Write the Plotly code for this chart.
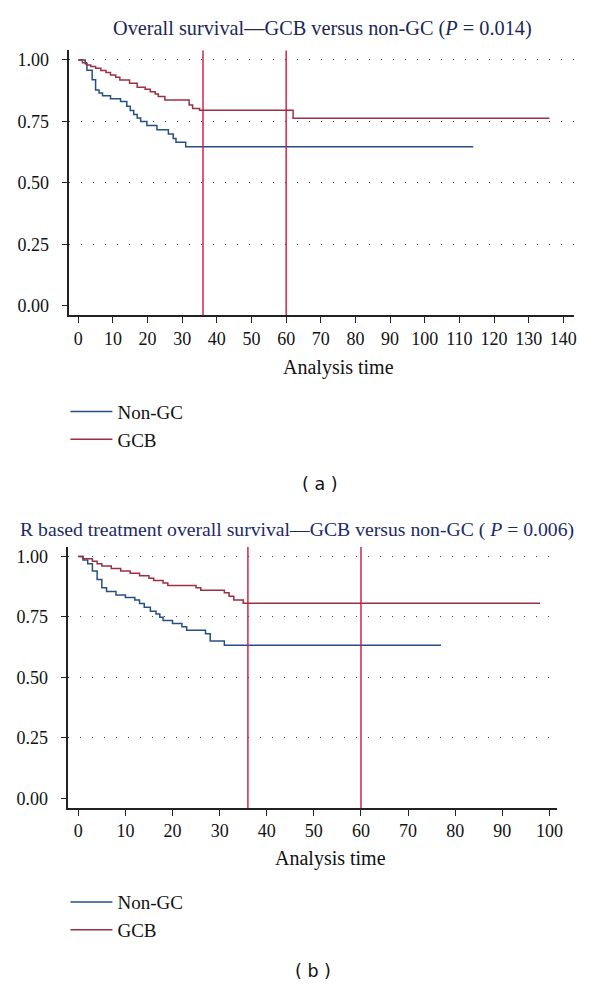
import plotly.graph_objects as go

# ---------------- data ----------------
# Panel (a): overall survival
a_nongc_t = [0, 2, 2.5, 4, 5, 6, 7, 9.3, 12.2, 14, 15, 16, 17, 18, 19.8, 22.7, 26, 27.4, 28.2, 31, 114]
a_nongc_s = [1.0, 0.985, 0.958, 0.92, 0.878, 0.866, 0.854, 0.842, 0.831, 0.812, 0.794, 0.778, 0.764, 0.75, 0.733, 0.716, 0.699, 0.68, 0.665, 0.647, 0.647]
a_gcb_t = [0, 1.2, 2.4, 3.6, 5, 6.5, 8, 9.3, 10.8, 12, 14.8, 17, 19.3, 20.8, 22.2, 23.1, 25, 32, 33, 35, 62, 136]
a_gcb_s = [1.0, 0.989, 0.98, 0.973, 0.966, 0.957, 0.949, 0.939, 0.93, 0.919, 0.905, 0.889, 0.881, 0.871, 0.862, 0.851, 0.837, 0.817, 0.803, 0.795, 0.763, 0.763]

# Panel (b): R based treatment overall survival
b_nongc_t = [0, 1, 2, 3, 4, 5, 6, 8, 10, 12, 13, 14, 15.3, 16.5, 17.3, 18, 20, 22, 23, 27, 28, 31, 77]
b_nongc_s = [1.0, 0.985, 0.97, 0.94, 0.905, 0.87, 0.855, 0.84, 0.83, 0.82, 0.805, 0.79, 0.773, 0.762, 0.748, 0.735, 0.723, 0.709, 0.695, 0.68, 0.65, 0.633, 0.633]
b_gcb_t = [0, 1, 3, 4, 5, 7, 9, 11, 13, 15, 16, 18, 19, 25, 26, 31, 32, 33, 35, 98]
b_gcb_s = [1.0, 0.99, 0.98, 0.97, 0.96, 0.95, 0.94, 0.93, 0.92, 0.91, 0.90, 0.89, 0.88, 0.87, 0.86, 0.85, 0.835, 0.82, 0.806, 0.806]

ref_times = [36, 60]
y_ticks = [0, 0.25, 0.5, 0.75, 1.0]
y_ticklabels = ["0.00", "0.25", "0.50", "0.75", "1.00"]
a_xticks = list(range(0, 141, 10))
b_xticks = list(range(0, 101, 10))
series_names = ["Non-GC", "GCB"]
title_a = "Overall survival—GCB versus non-GC (<i>P</i> = 0.014)"
title_b = "R based treatment overall survival—GCB versus non-GC ( <i>P</i> = 0.006)"

# ---------------- style ----------------
BLUE = "#274f86"
RED = "#9b3042"
VLINE = "#d0163f"
SERIF = "Liberation Serif"
OFF = 8            # page body margin in the browser
W, H = 600 - OFF, 988 - OFF
YR = [-0.04, 1.04]

def py(p):  # page pixel-from-top -> paper y
    return 1 - (p - OFF) / H

def px(p):
    return (p - OFF) / W

fig = go.Figure()

fig.add_trace(go.Scatter(x=a_nongc_t, y=a_nongc_s, mode="lines", line=dict(color=BLUE, width=1.5, shape="hv"),
                         name=series_names[0], xaxis="x", yaxis="y", legend="legend"))
fig.add_trace(go.Scatter(x=a_gcb_t, y=a_gcb_s, mode="lines", line=dict(color=RED, width=1.5, shape="hv"),
                         name=series_names[1], xaxis="x", yaxis="y", legend="legend"))
fig.add_trace(go.Scatter(x=b_nongc_t, y=b_nongc_s, mode="lines", line=dict(color=BLUE, width=1.5, shape="hv"),
                         name=series_names[0], xaxis="x2", yaxis="y2", legend="legend2"))
fig.add_trace(go.Scatter(x=b_gcb_t, y=b_gcb_s, mode="lines", line=dict(color=RED, width=1.5, shape="hv"),
                         name=series_names[1], xaxis="x2", yaxis="y2", legend="legend2"))

for xr, yr in [("x", "y"), ("x2", "y2")]:
    for t in ref_times:
        fig.add_shape(type="line", xref=xr, yref=yr, x0=t, x1=t, y0=YR[0], y1=YR[1],
                      line=dict(color=VLINE, width=1.4), layer="above")

tickfont = dict(family=SERIF, size=18, color="#111111")
common_x = dict(showline=True, linecolor="#222222", linewidth=1.5, ticks="outside", ticklen=6,
                tickcolor="#222222", tickwidth=1.3, showgrid=False, zeroline=False, tickfont=tickfont,
                ticklabelstandoff=0)
common_y = dict(showline=True, linecolor="#222222", linewidth=1.5, ticks="outside", ticklen=6,
                tickcolor="#222222", tickwidth=1.3, showgrid=False, zeroline=False, tickfont=tickfont,
                tickvals=y_ticks, ticktext=y_ticklabels, range=YR, ticklabelstandoff=9,
                minor=dict(tickvals=y_ticks[1:], showgrid=True, gridcolor="#444444", gridwidth=1.2,
                           griddash="1px,11px", ticks=""))

legfont = dict(family=SERIF, size=19, color="#111111")
fig.update_layout(
    width=W, height=H, margin=dict(l=0, r=0, t=0, b=0),
    paper_bgcolor="white", plot_bgcolor="white",
    xaxis=dict(common_x, domain=[px(70), px(580)], range=[-2.571, 143.14], anchor="y",
               tickvals=a_xticks),
    yaxis=dict(common_y, domain=[py(315.8), py(50.2)], anchor="x"),
    xaxis2=dict(common_x, domain=[px(69), px(563)], range=[-2.1, 101.68], anchor="y2",
                tickvals=b_xticks),
    yaxis2=dict(common_y, domain=[py(808.7), py(547.3)], anchor="x2"),
    legend=dict(x=px(66), y=py(393), xanchor="left", yanchor="top", font=legfont,
                bgcolor="rgba(0,0,0,0)", tracegroupgap=0, itemwidth=42),
    legend2=dict(x=px(66), y=py(884), xanchor="left", yanchor="top", font=legfont,
                 bgcolor="rgba(0,0,0,0)", tracegroupgap=0, itemwidth=42),
    showlegend=True,
)

ann = [
    dict(text=title_a, x=px(326), y=py(29), font=dict(family=SERIF, size=20.3, color="#1c2757")),
    dict(text=title_b, x=px(300), y=py(530), font=dict(family=SERIF, size=19.7, color="#1c2a66")),
    dict(text="Analysis time", x=px(342), y=py(368), font=dict(family=SERIF, size=20, color="#111111")),
    dict(text="Analysis time", x=px(334), y=py(859), font=dict(family=SERIF, size=20, color="#111111")),
    dict(text="( a )", x=px(323), y=py(484), font=dict(family="DejaVu Sans", size=17.5, color="#111111")),
    dict(text="( b )", x=px(316), y=py(972), font=dict(family="DejaVu Sans", size=17.5, color="#111111")),
]
for a in ann:
    fig.add_annotation(xref="paper", yref="paper", showarrow=False, xanchor="center", yanchor="middle", **a)

fig.write_html("out.html")
